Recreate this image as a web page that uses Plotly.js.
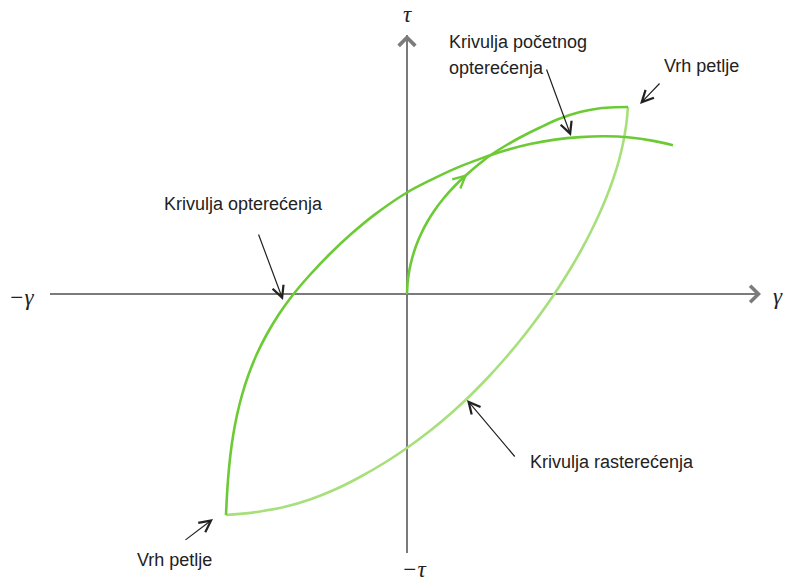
<!DOCTYPE html>
<html>
<head>
<meta charset="utf-8">
<script src="https://cdn.plot.ly/plotly-3.0.1.min.js"></script>
<style>
  body { margin: 0; background: #fff; }
  #petlja { width: 788px; height: 583px; }
</style>
</head>
<body>
<div id="petlja"></div>
<script>
'use strict'
/* Coordinates: origin at the axes crossing, 1 unit ~ 1 px */
var osX = [-357, 353];
var osY = [-259, 259];

/* Krivulja opterecenja (loading curve, from bottom tip upward) */
var loadX = [-181, -180, -178.6, -176.6, -173.8, -170, -165, -158.6, -150.6, -140.6, -128.6, -114.2, -97.2, -77.2,
             -54.2, -32, 0, 23, 48, 73, 98, 123, 148, 173, 198, 223, 245, 266];
var loadY = [-221, -201, -181, -161, -141, -121, -101, -81, -61, -41, -21, -1, 19, 40,
             61.4, 79.6, 101.5, 113.6, 125.4, 135.1, 143.4, 149.9, 154.4, 156.9, 157.7, 156.5, 153.4, 148.8];

/* Krivulja pocetnog opterecenja (initial loading, from origin to top tip) */
var initX = [0, 0.7, 2.4, 5.2, 9, 14, 20.2, 27.8, 36.9, 47.7, 60.4, 73, 83, 98, 113, 133, 153, 173, 193, 208, 221];
var initY = [0, 12, 24, 36, 48, 60, 72, 84, 96, 108, 120, 130.7, 138.5, 148, 156.5, 166.5, 175.5, 182, 185.7, 186.8, 187];

/* Krivulja rasterecenja (unloading, from top tip to bottom tip) */
var unloadX = [221, 219.2, 216.1, 211.8, 206.2, 199.5, 191.8, 183.2, 173.7, 163.3, 152, 139.8, 126.7, 112.7,
               97.6, 81.4, 63.8, 44.4, 22.8, -1.5, -22, -47, -72, -97, -122, -147, -167, -181];
var unloadY = [187, 169, 151, 133, 115, 97, 79, 61, 43, 25, 7, -11, -29, -47,
               -65, -83, -101, -119, -137, -155, -168.5, -183, -195.5, -205.5, -212.8, -217.5, -219.9, -221];

var green = '#6ccb35';
var lightGreen = '#a7e07b';
var axisGray = '#7b7b7b';
var textFont = {family: 'Liberation Sans, Arial, sans-serif', size: 18, color: '#222'};
var greekFont = {family: 'Liberation Serif, DejaVu Serif, serif', size: 23, color: '#222'};

function curve(xs, ys, color, name){
  return {
    type: 'scatter',
    mode: 'lines',
    name: name,
    x: xs,
    y: ys,
    line: {color: color, width: 2.6, shape: 'spline', smoothing: 1},
    hoverinfo: 'skip'
  };
}

var graphData = [
  {type: 'scatter', mode: 'lines', x: osX, y: [0, 0], line: {color: axisGray, width: 2}, hoverinfo: 'skip'},
  {type: 'scatter', mode: 'lines', x: [0, 0], y: osY, line: {color: axisGray, width: 2}, hoverinfo: 'skip'},
  curve(unloadX, unloadY, lightGreen, 'Rasterecenje'),
  curve(loadX, loadY, green, 'Opterecenje'),
  curve(initX, initY, green, 'Pocetno')
];

function label(x, y, text, font, anchor){
  return {x: x, y: y, text: text, showarrow: false, font: font, xanchor: anchor || 'center', yanchor: 'middle'};
}

/* thin black pointer, tail (ax, ay) -> tip (x, y), both in data units */
function pointer(ax, ay, x, y){
  return {x: x, y: y, ax: ax, ay: ay, axref: 'x', ayref: 'y', text: '', showarrow: true,
          arrowhead: 5, arrowsize: 1.9, arrowwidth: 1.2, arrowcolor: '#222'};
}

var annotations = [
  label(0, 280, '<i>τ</i>', greekFont),
  label(7, -275, '<i>−τ</i>', greekFont),
  label(371, -2, '<i>γ</i>', greekFont),
  label(-385, -3, '<i>−γ</i>', greekFont),
  label(40, 252, 'Krivulja početnog', textFont, 'left'),
  label(40, 226, 'opterećenja', textFont, 'left'),
  label(294, 228, 'Vrh petlje', textFont),
  label(-164, 90, 'Krivulja opterećenja', textFont),
  label(205, -168, 'Krivulja rasterećenja', textFont),
  label(-233, -266, 'Vrh petlje', textFont),
  pointer(139, 226, 164, 158),
  pointer(254, 212, 233, 190),
  pointer(-149, 61, -124, -6),
  pointer(109, -164, 60, -106),
  pointer(-223, -247, -194, -225),
  /* axis arrow heads */
  {x: 354, y: 0, ax: 330, ay: 0, axref: 'x', ayref: 'y', text: '', showarrow: true,
   arrowhead: 4, arrowsize: 1.6, arrowwidth: 2, arrowcolor: axisGray},
  {x: 0, y: 259, ax: 0, ay: 235, axref: 'x', ayref: 'y', text: '', showarrow: true,
   arrowhead: 4, arrowsize: 1.6, arrowwidth: 2, arrowcolor: axisGray},
  /* direction mark on the initial curve */
  {x: 60.4, y: 120, ax: 51.4, ay: 112, axref: 'x', ayref: 'y', text: '', showarrow: true,
   arrowhead: 5, arrowsize: 1.2, arrowwidth: 2, arrowcolor: green}
];

var layout = {
  width: 788,
  height: 583,
  margin: {l: 0, r: 0, b: 0, t: 0, pad: 0},
  paper_bgcolor: '#fff',
  plot_bgcolor: '#fff',
  showlegend: false,
  xaxis: {range: [-407, 381], visible: false, fixedrange: true},
  yaxis: {range: [-289, 294], visible: false, fixedrange: true},
  annotations: annotations
};

Plotly.newPlot('petlja', graphData, layout, {displayModeBar: false, staticPlot: true});
</script>
</body>
</html>
